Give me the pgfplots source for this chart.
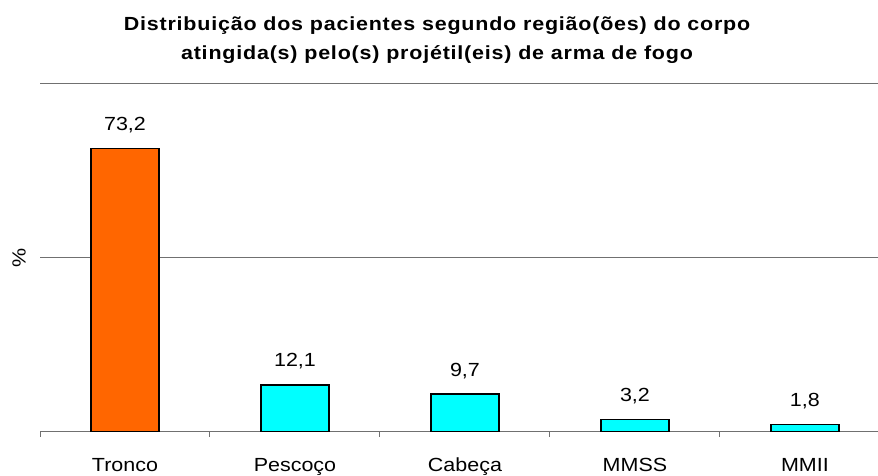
\documentclass[border=0pt]{standalone}
\usepackage{pgfplots}
\pgfplotsset{compat=1.18}
\usepackage{fontspec}
\setmainfont{Liberation Sans}[FakeStretch=1.13]
\newfontfamily\titlefont{Liberation Sans}[FakeStretch=1.13, LetterSpace=4.2]
\definecolor{barorange}{HTML}{FF6600}
\definecolor{barcyan}{HTML}{00FFFF}
\definecolor{gridgray}{HTML}{707070}
\begin{document}
\begin{tikzpicture}
\path[use as bounding box] (-40pt,-43.3pt) rectangle (838pt,431.7pt);
\begin{axis}[
  at={(0pt,0pt)}, anchor=south west,
  scale only axis, width=838pt, height=348.4pt,
  xmin=-0.5, xmax=4.43, ymin=0, ymax=90,
  axis x line*=bottom, axis y line*=left,
  y axis line style={draw=none},
  x axis line style={draw=gridgray, line width=1pt, -},
  ytick={45,90}, yticklabels={}, ytick style={draw=none},
  ymajorgrids, grid style={draw=gridgray, line width=1pt},
  xtick={0,1,2,3,4},
  xticklabels={Tronco,Pescoço,Cabeça,MMSS,MMII},
  major tick length=0pt,
  minor xtick={-0.5,0.5,1.5,2.5,3.5},
  minor tick length=5pt,
  tick align=outside,
  minor x tick style={draw=gridgray, line width=1pt},
  xticklabel style={font=\fontsize{19}{22}\selectfont, anchor=base, yshift=-39.3pt, inner sep=0pt},
  /pgf/number format/assume math mode=true,
  /pgf/number format/.cd, fixed, fixed zerofill, precision=1, use comma,
  /pgfplots/.cd,
  ybar, bar width=68pt, bar shift=0pt,
  nodes near coords,
  nodes near coords style={font=\fontsize{19}{22}\selectfont, anchor=base, yshift=18pt, inner sep=0pt, text=black},
  clip=false,
]
\addplot[fill=barorange, draw=black, line width=1.5pt] coordinates {(0,73.2)};
\addplot[fill=barcyan, draw=black, line width=1.5pt] coordinates {(1,12.1) (2,9.7) (3,3.2) (4,1.8)};
\end{axis}
\node[rotate=90, font=\fontsize{19}{22}\selectfont] at (-21pt,174.2pt) {\%};
\node[anchor=base, inner sep=0pt, font=\titlefont\bfseries\fontsize{19}{22}\selectfont] at (397pt,401pt) {Distribuição dos pacientes segundo região(ões) do corpo};
\node[anchor=base, inner sep=0pt, font=\titlefont\bfseries\fontsize{19}{22}\selectfont] at (397pt,372.4pt) {atingida(s) pelo(s) projétil(eis) de arma de fogo};
\end{tikzpicture}
\end{document}
